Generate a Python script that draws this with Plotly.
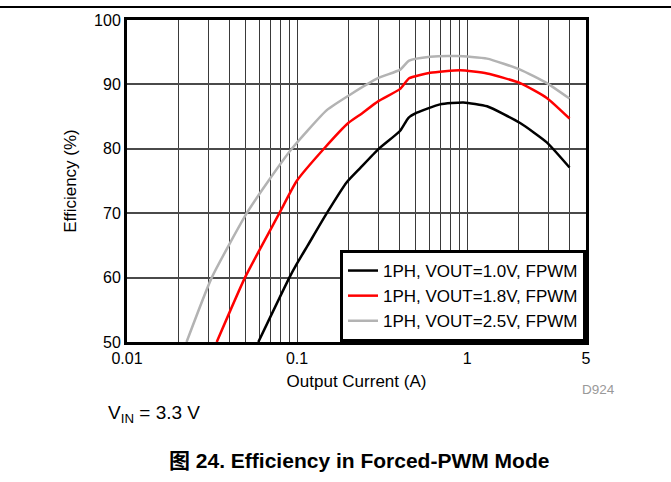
import plotly.graph_objects as go

# Data
current_1v0 = [0.0592, 0.0901, 0.1, 0.1156, 0.1496, 0.196, 0.235, 0.301, 0.404, 0.452, 0.506, 0.693, 0.951, 1.31, 2.05, 2.94, 4.0]
eff_1v0 = [50.0, 60.0, 62.2, 65.0, 70.0, 74.8, 77.0, 79.95, 82.8, 84.8, 85.6, 86.9, 87.2, 86.6, 84.0, 81.0, 77.1]

current_1v8 = [0.0337, 0.0494, 0.0787, 0.0995, 0.146, 0.2, 0.235, 0.301, 0.404, 0.456, 0.606, 0.91, 1.31, 2.05, 2.94, 4.0]
eff_1v8 = [50.0, 60.0, 70.0, 75.0, 80.2, 84.0, 85.3, 87.4, 89.3, 90.95, 91.8, 92.2, 91.7, 90.2, 87.9, 84.7]

current_2v5 = [0.0224, 0.0315, 0.0506, 0.0678, 0.0931, 0.1496, 0.205, 0.301, 0.404, 0.456, 0.606, 0.87, 1.31, 2.05, 2.94, 4.0]
eff_2v5 = [50.0, 60.0, 70.0, 75.0, 80.0, 86.0, 88.4, 91.0, 92.3, 93.7, 94.3, 94.4, 94.0, 92.3, 90.2, 87.8]

series_names = ["1PH, VOUT=1.0V, FPWM", "1PH, VOUT=1.8V, FPWM", "1PH, VOUT=2.5V, FPWM"]
series_colors = ["#000000", "#ff0000", "#b3b3b3"]

x_tick_vals = [0.01, 0.1, 1, 5]
x_tick_text = ["0.01", "0.1", "1", "5"]
x_minor_vals = [0.02, 0.03, 0.04, 0.05, 0.06, 0.07, 0.08, 0.09,
                0.2, 0.3, 0.4, 0.5, 0.6, 0.7, 0.8, 0.9, 2, 3, 4]
y_tick_vals = [50, 60, 70, 80, 90, 100]

FONT = "Liberation Sans, Arial, sans-serif"

fig = go.Figure()
for xs, ys, name, color in zip([current_1v0, current_1v8, current_2v5],
                               [eff_1v0, eff_1v8, eff_2v5],
                               series_names, series_colors):
    fig.add_trace(go.Scatter(x=xs, y=ys, mode="lines", name=name,
                             line=dict(color=color, width=2.5, shape="spline", smoothing=0.5)))

fig.update_layout(
    width=671, height=482,
    margin=dict(l=127, r=85, t=15, b=140),
    paper_bgcolor="white", plot_bgcolor="white",
    font=dict(family=FONT, size=16, color="#000000"),
    showlegend=True,
    legend=dict(x=1, y=0, xanchor="right", yanchor="bottom",
                bgcolor="white", bordercolor="black", borderwidth=3,
                font=dict(family=FONT, size=17, color="#000000"),
                tracegroupgap=0, itemwidth=30),
    xaxis=dict(type="log", range=[-2, 0.69897],
               tickmode="array", tickvals=x_tick_vals, ticktext=x_tick_text,
               showgrid=True, gridcolor="#3a3a3a", gridwidth=1,
               minor=dict(tickmode="array", tickvals=x_minor_vals, showgrid=True,
                          gridcolor="#3a3a3a", gridwidth=1, ticks=""),
               showline=True, linecolor="black", linewidth=3, mirror=True,
               ticks="", zeroline=False,
               title=dict(text="Output Current (A)", standoff=9,
                          font=dict(family=FONT, size=17)),
               tickfont=dict(family=FONT, size=16)),
    yaxis=dict(range=[50, 100], tickmode="array", tickvals=y_tick_vals,
               showgrid=True, gridcolor="#4a4a4a", gridwidth=1.5,
               showline=True, linecolor="black", linewidth=3, mirror=True,
               ticks="", zeroline=False,
               title=dict(text="Efficiency (%)", standoff=14,
                          font=dict(family=FONT, size=17)),
               tickfont=dict(family=FONT, size=16)),
)

# Top rule of the figure page (full width)
fig.add_shape(type="line", xref="paper", yref="paper",
              x0=-0.28, x1=1.19, y0=1.04, y1=1.04,
              line=dict(color="black", width=2))

fig.add_annotation(text="D924", xref="paper", yref="paper",
                   x=0.987, y=-0.148, xanchor="left", yanchor="middle",
                   showarrow=False, font=dict(family=FONT, size=13.5, color="#999999"))
fig.add_annotation(text="V<sub>IN</sub> = 3.3 V", xref="paper", yref="paper",
                   x=-0.045, y=-0.223, xanchor="left", yanchor="middle",
                   showarrow=False, font=dict(family=FONT, size=19, color="#000000"))
fig.add_annotation(text="<b>图 24. Efficiency in Forced-PWM Mode</b>", xref="paper", yref="paper",
                   x=0.505, y=-0.368, xanchor="center", yanchor="middle",
                   showarrow=False,
                   font=dict(family="Liberation Sans, Noto Sans CJK SC, sans-serif", size=21, color="#000000"))

fig.write_html("out.html", config={"displayModeBar": False},
               post_script="document.body.style.margin='0';")
